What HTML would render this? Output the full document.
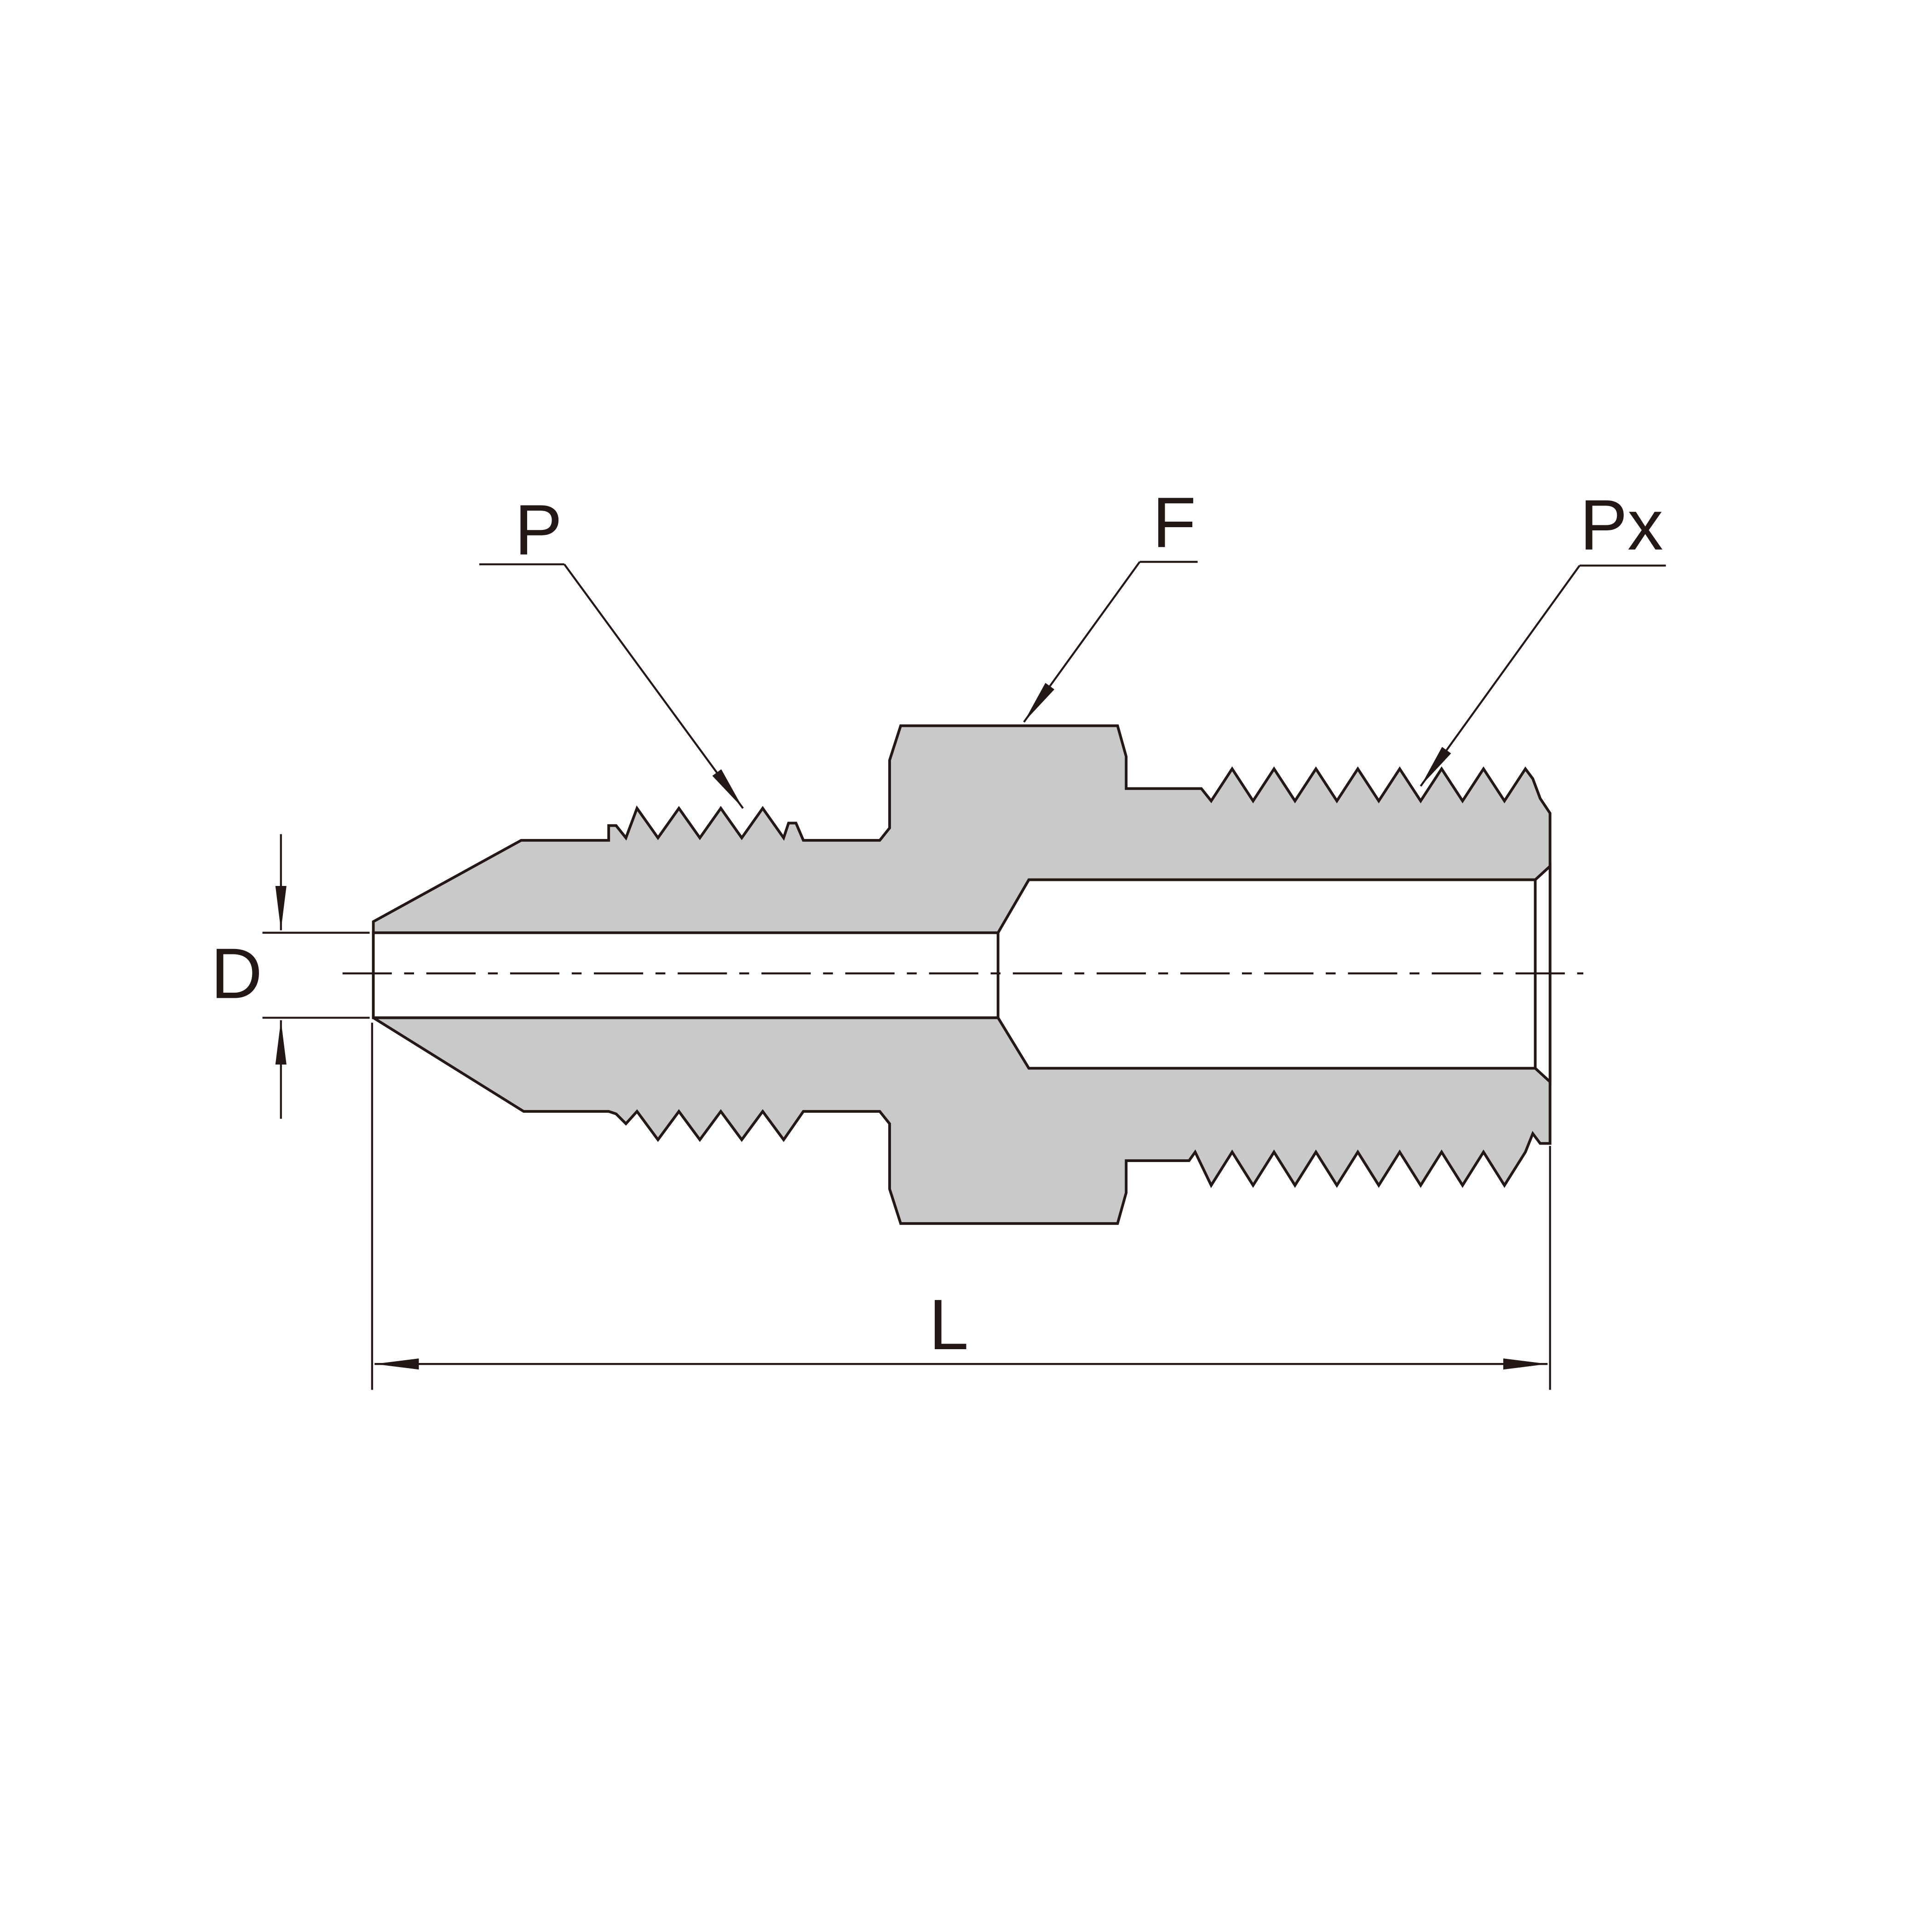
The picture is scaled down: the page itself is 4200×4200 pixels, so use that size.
<!DOCTYPE html>
<html><head><meta charset="utf-8"><style>
html,body{margin:0;padding:0;background:#fff;}
svg{display:block;}
text{font-family:"Liberation Sans",sans-serif;fill:#231815;}
</style></head><body>
<svg width="4200" height="4200" viewBox="0 0 1568 1568" xmlns="http://www.w3.org/2000/svg">
<defs>
<marker id="a" viewBox="0 0 36 10" refX="36" refY="5" markerWidth="36" markerHeight="10" markerUnits="userSpaceOnUse" orient="auto"><path d="M0,0.5 L36,5 L0,9.5 Z" fill="#231815"/></marker>
</defs>
<g stroke="#231815" stroke-width="2.2" stroke-linejoin="miter">
<polygon fill="#c9c9c9" points="
303,748 423,682 494,682 494,670 500,670 508,680 517,656 534,680 551,656 568,680 585,656 602,680 619,656 636,680 640,668 646,668 652,682 714,682 722,672 722,617 731,589 907,589 914,614 914,640 975,640 983,650 1000,624 1017,650 1034,624 1051,650 1068,624 1085,650 1102,624 1119,650 1136,624 1153,650 1170,624 1187,650 1204,624 1221,650 1238,624 1244,632 1250,648 1258,660
1258,928 1250,928 1244,920 1238,935 1221,962 1204,935 1187,962 1170,935 1153,962 1136,935 1119,962 1102,935 1085,962 1068,935 1051,962 1034,935 1017,962 1000,935 983,962 970,935 965,942 914,942 914,968 907,993 731,993 722,965 722,912 714,902 652,902 636,925 619,902 602,925 585,902 568,925 551,902 534,925 517,902 508,912 500,904 494,902 425,902 303,826"/>
<polygon fill="#fff" points="303,757 810,757 835,714 1246,714 1258,703 1258,878 1246,867 835,867 810,826 303,826"/>
<line x1="1246" y1="714" x2="1246" y2="867"/>
<line x1="810" y1="757" x2="810" y2="826"/>
</g>
<g stroke="#231815" stroke-width="1.6" fill="none">
<line x1="278" y1="790" x2="1285" y2="790" stroke-dasharray="40,10,8,10"/>
<line x1="213" y1="757" x2="300" y2="757"/>
<line x1="213" y1="826" x2="300" y2="826"/>
<line x1="228" y1="677" x2="228" y2="755" marker-end="url(#a)"/>
<line x1="228" y1="908" x2="228" y2="828" marker-end="url(#a)"/>
<line x1="302" y1="830" x2="302" y2="1128"/>
<line x1="1258" y1="930" x2="1258" y2="1128"/>
<line x1="700" y1="1107" x2="304" y2="1107" marker-end="url(#a)"/>
<line x1="700" y1="1107" x2="1256" y2="1107" marker-end="url(#a)"/>
<polyline points="389,458 458,458"/>
<line x1="458" y1="458" x2="603" y2="656" marker-end="url(#a)"/>
<polyline points="972,456 925,456"/>
<line x1="925" y1="456" x2="831" y2="586" marker-end="url(#a)"/>
<polyline points="1352,459 1282,459"/>
<line x1="1282" y1="459" x2="1153" y2="638" marker-end="url(#a)"/>
</g>
<text x="192" y="810" font-size="58" text-anchor="middle">D</text>
<text x="770" y="1095" font-size="58" text-anchor="middle">L</text>
<text x="437" y="450" font-size="58" text-anchor="middle">P</text>
<text x="953" y="444" font-size="58" text-anchor="middle">F</text>
<text x="1316" y="446" font-size="58" text-anchor="middle">Px</text>
</svg>
</body></html>
